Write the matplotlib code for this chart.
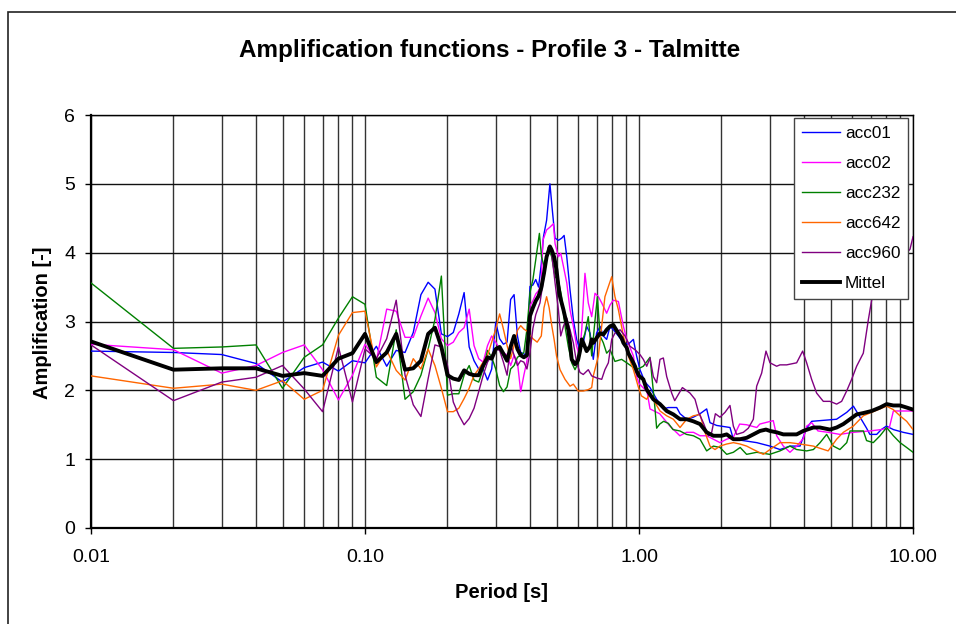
import numpy as np
import matplotlib.pyplot as plt
from matplotlib.patches import Rectangle

plt.rcParams['font.family'] = ['Liberation Sans', 'DejaVu Sans']

# shared period grid for the short-period part (s)
period_low = [0.01, 0.02, 0.03, 0.04, 0.05, 0.06, 0.07, 0.08, 0.09, 0.10,
              0.11, 0.12, 0.13, 0.14, 0.15, 0.16, 0.17, 0.18, 0.19, 0.20,
              0.21, 0.22, 0.23, 0.24, 0.25, 0.26, 0.27, 0.28, 0.29, 0.30,
              0.31, 0.32, 0.33, 0.34, 0.35, 0.36, 0.37, 0.38, 0.39, 0.40]

acc01_low = [2.57, 2.55, 2.52, 2.39, 2.12, 2.33, 2.41, 2.28, 2.43, 2.40,
             2.64, 2.35, 2.58, 2.55, 2.84, 3.39, 3.57, 3.47, 2.82, 2.78,
             2.84, 3.11, 3.42, 2.63, 2.43, 2.31, 2.31, 2.15, 2.31, 2.99,
             2.75, 2.67, 2.70, 3.32, 3.39, 2.79, 2.55, 2.53, 2.51, 3.51]
acc02_low = [2.67, 2.59, 2.25, 2.36, 2.55, 2.66, 2.30, 1.86, 2.22, 2.67,
             2.43, 3.18, 3.15, 2.77, 2.77, 3.08, 3.34, 3.13, 2.75, 2.65,
             2.70, 2.84, 2.91, 3.18, 2.65, 2.46, 2.41, 2.65, 2.79, 2.70,
             2.60, 2.55, 2.51, 2.36, 2.51, 2.41, 1.98, 2.22, 2.43, 3.23]
acc232_low = [3.56, 2.61, 2.63, 2.66, 2.03, 2.48, 2.66, 3.05, 3.36, 3.25,
              2.19, 2.07, 2.88, 1.87, 1.98, 2.22, 2.60, 3.03, 3.66, 1.93,
              1.95, 1.95, 2.22, 2.36, 2.15, 2.12, 2.31, 2.58, 2.48, 2.31,
              2.07, 1.98, 2.05, 2.31, 2.36, 2.48, 2.51, 2.55, 2.89, 3.42]
acc642_low = [2.21, 2.03, 2.09, 2.00, 2.14, 1.87, 2.00, 2.80, 3.13, 3.15,
              2.34, 2.58, 2.29, 2.15, 2.46, 2.31, 2.60, 2.36, 2.03, 1.69,
              1.69, 1.74, 1.88, 2.03, 2.22, 2.31, 2.41, 2.51, 2.70, 2.89,
              3.11, 2.89, 2.65, 2.46, 2.65, 2.87, 2.94, 2.89, 2.86, 2.80]
acc960_low = [2.66, 1.85, 2.12, 2.19, 2.36, 2.02, 1.69, 2.63, 1.83, 2.60,
              2.46, 2.75, 3.31, 2.22, 1.79, 1.62, 2.17, 2.66, 2.63, 2.36,
              1.83, 1.64, 1.50, 1.59, 1.74, 1.98, 2.22, 2.41, 2.51, 2.60,
              2.58, 2.41, 2.22, 2.67, 2.51, 2.36, 2.43, 2.41, 2.31, 2.55]
mittel_low = [2.71, 2.30, 2.32, 2.32, 2.21, 2.25, 2.21, 2.46, 2.54, 2.82,
              2.41, 2.55, 2.82, 2.30, 2.32, 2.43, 2.82, 2.91, 2.63, 2.22,
              2.17, 2.15, 2.29, 2.24, 2.22, 2.22, 2.36, 2.48, 2.46, 2.60,
              2.63, 2.53, 2.43, 2.63, 2.79, 2.60, 2.51, 2.48, 2.51, 3.08]

# longer periods, read per series
acc01_T = [0.41, 0.42, 0.43, 0.44, 0.448, 0.46, 0.473, 0.484, 0.494, 0.508,
           0.522, 0.533, 0.545, 0.56, 0.576, 0.592, 0.609, 0.626, 0.644, 0.663,
           0.681, 0.70, 0.721, 0.741, 0.762, 0.784, 0.806, 0.841, 0.877, 0.914,
           0.954, 0.98, 1.008, 1.052, 1.097, 1.16, 1.227, 1.28, 1.373, 1.412,
           1.493, 1.579, 1.67, 1.766, 1.816, 1.92, 2.148, 2.21, 2.40, 2.69,
           3.006, 3.27, 3.556, 3.87, 3.96, 4.09, 4.27, 4.58, 5.26, 5.73,
           6.06, 6.32, 6.77, 6.96, 7.37, 7.66, 8.0, 8.48, 9.21, 10.0]
acc01_A = [3.53, 3.61, 3.50, 3.84, 4.23, 4.47, 5.00, 4.57, 4.21, 4.18,
           4.21, 4.25, 3.94, 3.46, 3.03, 2.74, 2.59, 2.69, 2.93, 2.83,
           2.45, 2.83, 2.93, 2.79, 2.74, 2.93, 2.88, 2.79, 2.69, 2.67,
           2.74, 2.50, 2.30, 2.12, 2.04, 1.87, 1.73, 1.75, 1.75, 1.66,
           1.58, 1.61, 1.66, 1.73, 1.53, 1.49, 1.46, 1.29, 1.27, 1.24,
           1.19, 1.14, 1.19, 1.19, 1.30, 1.45, 1.55, 1.56, 1.58, 1.68,
           1.77, 1.65, 1.45, 1.36, 1.36, 1.43, 1.48, 1.43, 1.39, 1.36]

acc02_T = [0.41, 0.42, 0.43, 0.44, 0.446, 0.46, 0.473, 0.487, 0.494, 0.508,
           0.518, 0.53, 0.545, 0.56, 0.576, 0.592, 0.606, 0.618, 0.635, 0.653,
           0.672, 0.691, 0.711, 0.731, 0.762, 0.784, 0.806, 0.841, 0.877, 0.902,
           0.954, 0.98, 1.0, 1.04, 1.07, 1.097, 1.19, 1.29, 1.41, 1.49,
           1.58, 1.67, 1.766, 1.868, 1.975, 2.089, 2.21, 2.33, 2.47, 2.69,
           2.76, 3.09, 3.18, 3.363, 3.556, 3.762, 3.978, 4.09, 4.27, 4.5,
           4.9, 5.41, 6.06, 6.96, 7.66, 8.2, 8.48, 9.0, 10.0]
acc02_A = [3.30, 3.40, 3.45, 3.55, 4.18, 4.33, 4.37, 4.42, 4.13, 3.94,
           3.99, 3.80, 3.56, 3.17, 2.93, 2.64, 2.50, 2.88, 3.70, 3.27,
           3.07, 3.41, 3.36, 3.27, 3.12, 3.24, 3.31, 3.29, 2.93, 2.74,
           2.50, 2.20, 2.10, 2.03, 1.98, 1.73, 1.66, 1.49, 1.34, 1.39,
           1.39, 1.34, 1.34, 1.29, 1.24, 1.29, 1.32, 1.51, 1.50, 1.46,
           1.51, 1.56, 1.34, 1.19, 1.10, 1.19, 1.30, 1.48, 1.53, 1.41,
           1.39, 1.36, 1.39, 1.41, 1.43, 1.46, 1.70, 1.70, 1.70]

acc232_T = [0.41, 0.42, 0.433, 0.441, 0.454, 0.467, 0.48, 0.494, 0.508, 0.522,
            0.537, 0.552, 0.568, 0.584, 0.60, 0.618, 0.635, 0.653, 0.672, 0.691,
            0.705, 0.721, 0.741, 0.762, 0.784, 0.817, 0.864, 0.902, 0.94, 0.98,
            1.037, 1.097, 1.14, 1.16, 1.19, 1.23, 1.28, 1.33, 1.41, 1.49,
            1.58, 1.67, 1.766, 1.868, 1.975, 2.09, 2.21, 2.34, 2.47, 2.69,
            3.0, 3.27, 3.556, 3.76, 4.09, 4.33, 4.58, 4.84, 5.12, 5.41,
            5.73, 5.89, 6.59, 6.77, 7.16, 7.58, 8.01, 8.48, 8.97, 9.48, 10.0]
acc232_A = [3.61, 3.90, 4.28, 3.94, 3.75, 4.08, 3.94, 3.65, 3.60, 3.36,
            2.93, 2.64, 2.40, 2.30, 2.40, 2.69, 2.83, 3.07, 2.50, 3.02,
            3.36, 2.79, 2.69, 2.54, 2.59, 2.42, 2.45, 2.40, 2.35, 2.30,
            2.35, 2.48, 1.80, 1.45, 1.51, 1.55, 1.52, 1.43, 1.41, 1.36,
            1.34, 1.29, 1.12, 1.19, 1.17, 1.07, 1.10, 1.17, 1.07, 1.10,
            1.07, 1.12, 1.19, 1.14, 1.12, 1.14, 1.24, 1.36, 1.19, 1.14,
            1.24, 1.41, 1.41, 1.27, 1.24, 1.34, 1.46, 1.34, 1.24, 1.17, 1.10]

acc642_T = [0.41, 0.425, 0.44, 0.45, 0.46, 0.47, 0.48, 0.49, 0.50, 0.515,
            0.537, 0.56, 0.576, 0.60, 0.626, 0.653, 0.672, 0.681, 0.711, 0.751,
            0.795, 0.817, 0.841, 0.877, 0.914, 0.954, 0.994, 1.02, 1.067, 1.097,
            1.144, 1.193, 1.262, 1.335, 1.412, 1.493, 1.579, 1.67, 1.741, 1.816,
            1.894, 1.975, 2.089, 2.21, 2.337, 2.471, 2.614, 2.842, 3.006, 3.27,
            3.556, 3.869, 4.326, 4.9, 5.264, 5.567, 6.055, 6.586, 6.96, 8.013,
            8.475, 8.966, 9.483, 10.0]
acc642_A = [2.75, 2.70, 2.79, 3.20, 3.36, 3.20, 2.95, 2.74, 2.50, 2.30,
            2.16, 2.06, 2.09, 1.99, 1.99, 2.01, 2.04, 2.21, 2.50, 3.36,
            3.65, 3.36, 3.17, 2.79, 2.50, 2.30, 2.05, 1.92, 1.87, 1.96,
            1.82, 1.70, 1.63, 1.58, 1.46, 1.58, 1.63, 1.65, 1.39, 1.19,
            1.14, 1.19, 1.22, 1.24, 1.22, 1.19, 1.14, 1.07, 1.14, 1.24,
            1.24, 1.22, 1.19, 1.12, 1.29, 1.39, 1.48, 1.63, 1.67, 1.77,
            1.72, 1.63, 1.55, 1.43]

acc960_T = [0.41, 0.42, 0.435, 0.454, 0.467, 0.48, 0.494, 0.508, 0.518, 0.53,
            0.545, 0.56, 0.576, 0.592, 0.609, 0.626, 0.653, 0.672, 0.70, 0.731,
            0.751, 0.773, 0.795, 0.817, 0.853, 0.889, 0.927, 0.967, 1.008, 1.037,
            1.067, 1.097, 1.128, 1.16, 1.193, 1.227, 1.262, 1.316, 1.35, 1.44,
            1.535, 1.601, 1.65, 1.717, 1.791, 1.842, 1.90, 1.975, 2.06, 2.148,
            2.21, 2.272, 2.403, 2.506, 2.614, 2.688, 2.803, 2.907, 3.006, 3.18,
            3.27, 3.458, 3.762, 3.956, 4.091, 4.266, 4.449, 4.706, 4.977, 5.264,
            5.49, 5.725, 5.971, 6.227, 6.586, 6.868, 7.064, 7.367, 9.75, 10.0]
acc960_A = [2.90, 3.10, 3.27, 3.75, 4.08, 3.99, 3.56, 3.17, 2.79, 2.93,
            3.05, 2.88, 2.69, 2.40, 2.26, 2.23, 2.30, 2.21, 2.18, 2.16,
            2.30, 2.40, 2.74, 2.83, 2.88, 2.79, 2.64, 2.59, 2.52, 2.45,
            2.35, 2.47, 2.20, 2.11, 2.45, 2.47, 2.20, 1.96, 1.85, 2.04,
            1.96, 1.87, 1.68, 1.53, 1.34, 1.39, 1.66, 1.61, 1.68, 1.78,
            1.48, 1.36, 1.39, 1.45, 1.58, 2.06, 2.25, 2.57, 2.40, 2.35,
            2.37, 2.37, 2.40, 2.57, 2.40, 2.16, 1.96, 1.84, 1.84, 1.80,
            1.84, 1.99, 2.16, 2.35, 2.54, 3.02, 3.31, 3.51, 4.05, 4.23]

mittel_T = [0.41, 0.42, 0.43, 0.44, 0.45, 0.46, 0.473, 0.48, 0.49, 0.50,
            0.508, 0.515, 0.53, 0.537, 0.552, 0.56, 0.568, 0.584, 0.592, 0.60,
            0.609, 0.618, 0.626, 0.644, 0.663, 0.672, 0.681, 0.70, 0.721, 0.741,
            0.762, 0.784, 0.806, 0.817, 0.841, 0.864, 0.877, 0.902, 0.914, 0.94,
            0.967, 0.98, 1.0, 1.037, 1.067, 1.128, 1.193, 1.262, 1.335, 1.412,
            1.493, 1.579, 1.67, 1.766, 1.868, 2.003, 2.089, 2.21, 2.337, 2.471,
            2.614, 2.764, 2.907, 3.006, 3.18, 3.363, 3.762, 3.978, 4.326, 4.575,
            4.977, 5.264, 5.567, 5.888, 6.227, 6.586, 7.064, 7.576, 8.013, 8.475,
            8.966, 9.483, 10.0]
mittel_A = [3.20, 3.30, 3.37, 3.49, 3.70, 3.94, 4.09, 4.04, 3.94, 3.75,
            3.51, 3.36, 3.17, 3.07, 2.88, 2.69, 2.45, 2.38, 2.40, 2.45,
            2.57, 2.74, 2.69, 2.57, 2.64, 2.74, 2.69, 2.76, 2.83, 2.81,
            2.88, 2.93, 2.95, 2.91, 2.83, 2.76, 2.69, 2.62, 2.54, 2.45,
            2.35, 2.28, 2.21, 2.16, 2.01, 1.87, 1.80, 1.70, 1.65, 1.58,
            1.58, 1.55, 1.51, 1.39, 1.34, 1.34, 1.36, 1.29, 1.29, 1.31,
            1.36, 1.41, 1.43, 1.41, 1.39, 1.36, 1.36, 1.41, 1.46, 1.46,
            1.43, 1.46, 1.51, 1.58, 1.65, 1.67, 1.70, 1.75, 1.80, 1.78,
            1.78, 1.75, 1.72]

labels = ['acc01', 'acc02', 'acc232', 'acc642', 'acc960', 'Mittel']
colors = ['#0000FF', '#FF00FF', '#008000', '#FF6600', '#800080', '#000000']
xtick_vals = [0.01, 0.1, 1, 10]
xtick_labels = ['0.01', '0.10', '1.00', '10.00']

series = [
    (acc01_low, acc01_T, acc01_A),
    (acc02_low, acc02_T, acc02_A),
    (acc232_low, acc232_T, acc232_A),
    (acc642_low, acc642_T, acc642_A),
    (acc960_low, acc960_T, acc960_A),
    (mittel_low, mittel_T, mittel_A),
]

W, H = 956, 624
fig = plt.figure(figsize=(W / 100, H / 100), dpi=100)
ax = fig.add_axes([91 / W, 1 - 528 / H, 822 / W, 413 / H])

# chart border (cut off on the right and bottom like the source)
fig.patches.append(Rectangle((8 / W, -0.2), 1.5, 1.2 - 12 / H,
                             transform=fig.transFigure, fill=False,
                             edgecolor='#222222', linewidth=1.2))

for (low, tt, aa), lab, col in zip(series, labels, colors):
    x = np.concatenate([period_low, tt])
    y = np.concatenate([low, aa])
    lw = 2.8 if lab == 'Mittel' else 1.0
    ax.plot(x, y, color=col, lw=lw, label=lab, zorder=4 if lab == 'Mittel' else 3)

ax.set_xscale('log')
ax.set_xlim(0.01, 10)
ax.set_ylim(0, 6)
ax.set_yticks(range(0, 7))
ax.set_xticks(xtick_vals)
ax.set_xticklabels(xtick_labels)
ax.xaxis.set_minor_formatter(plt.NullFormatter())

ax.grid(True, which='both', axis='x', color='#333333', lw=1.0)
ax.grid(True, which='major', axis='y', color='#111111', lw=1.0)
ax.set_axisbelow(True)
ax.tick_params(which='minor', length=0)
ax.tick_params(axis='y', which='major', length=4.3, width=1.0, labelsize=14, pad=7)
ax.tick_params(axis='x', which='major', length=4.3, width=1.0, labelsize=14, pad=11)

for side in ['left', 'bottom']:
    ax.spines[side].set_linewidth(1.6)
for side in ['top', 'right']:
    ax.spines[side].set_linewidth(1.0)

leg = ax.legend(loc='upper right', bbox_to_anchor=(1 - 5 / 822, 1 - 3 / 413),
                borderaxespad=0, fontsize=12.3, frameon=True, fancybox=False,
                framealpha=1, edgecolor='#444444', handlelength=2.2,
                handletextpad=0.3, labelspacing=0.88, borderpad=0.45)
leg.get_frame().set_linewidth(1.0)
leg.set_zorder(10)

fig.text(489.5 / W, 1 - 50 / H, 'Amplification functions - Profile 3 - Talmitte',
         ha='center', va='center', fontsize=17.5, fontweight='bold')
fig.text(502 / W, 1 - 593 / H, 'Period [s]', ha='center', va='center',
         fontsize=14.5, fontweight='bold')
fig.text(43 / W, 1 - 323 / H, 'Amplification [-]', ha='center', va='center',
         rotation=90, fontsize=14.5, fontweight='bold')

fig.savefig('out.png', dpi=100)
